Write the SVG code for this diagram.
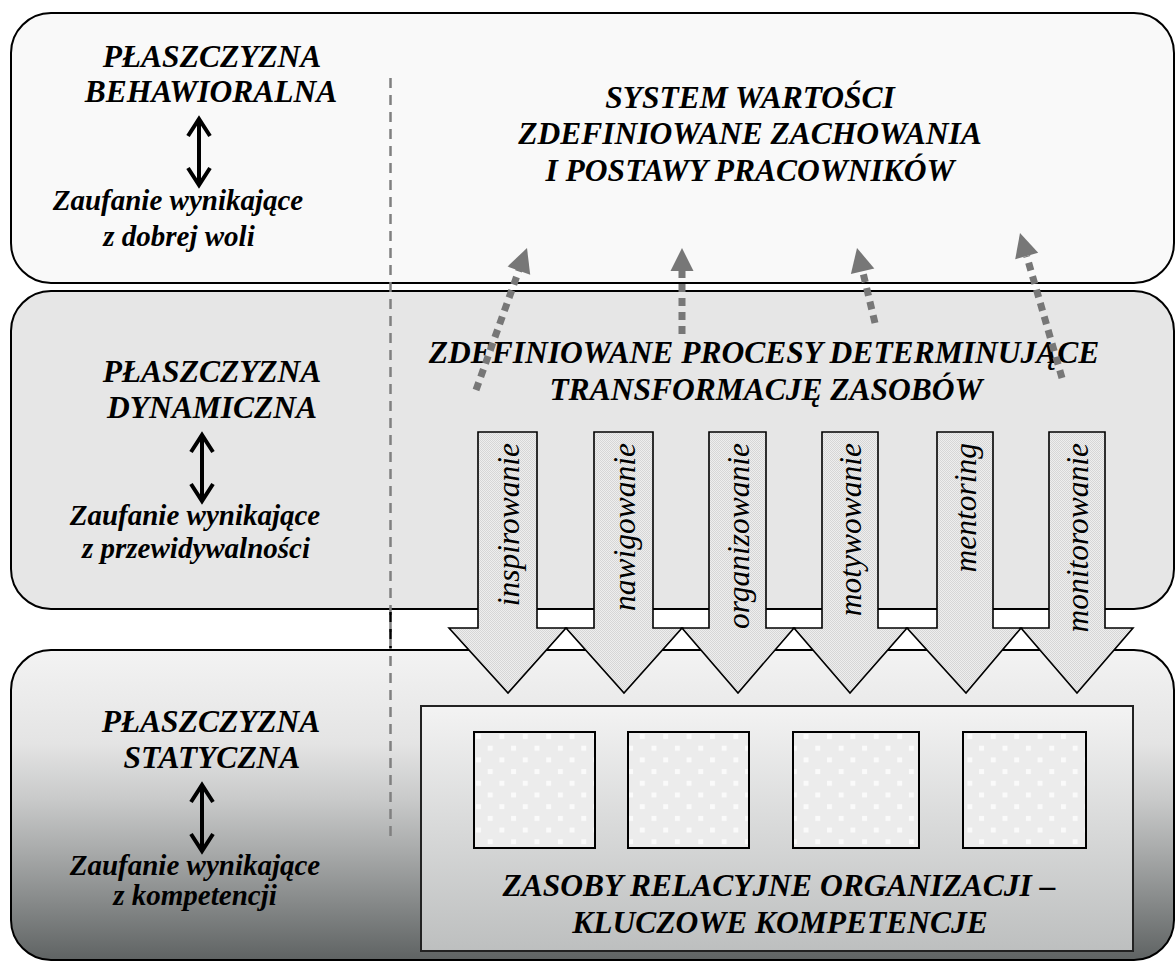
<svg xmlns="http://www.w3.org/2000/svg" width="1176" height="962" viewBox="0 0 1176 962">
<style>
.panel{stroke:#000;stroke-width:2}
.t{font-family:"Liberation Serif","Times New Roman",serif;font-weight:bold;font-style:italic;fill:#000;text-anchor:middle}
.big{font-size:31.5px}
.trust{font-size:29px}
.proc{font-family:"Liberation Serif","Times New Roman",serif;font-style:italic;font-size:31.5px;fill:#000;text-anchor:end}
.parr{fill:url(#chk);stroke:#000;stroke-width:1.6;stroke-linejoin:miter}
.dbl{stroke:#000;stroke-width:4;fill:none;stroke-linecap:butt}
.dot{stroke:#777;stroke-width:7;stroke-dasharray:8 6;fill:none}
.dhead{fill:#777}
.sq{fill:url(#dots);stroke:#000;stroke-width:2}
</style>
<defs>
<linearGradient id="g3" x1="0" y1="0" x2="0" y2="1">
<stop offset="0" stop-color="#f3f3f3"/>
<stop offset="0.3" stop-color="#e4e4e4"/>
<stop offset="0.48" stop-color="#c9caca"/>
<stop offset="0.65" stop-color="#a8aaaa"/>
<stop offset="0.81" stop-color="#878a8a"/>
<stop offset="1" stop-color="#5f6363"/>
</linearGradient>
<linearGradient id="gbox" x1="0" y1="0" x2="0" y2="1">
<stop offset="0" stop-color="#f3f3f3"/>
<stop offset="1" stop-color="#bdbfbf"/>
</linearGradient>
<pattern id="chk" width="2" height="2" patternUnits="userSpaceOnUse">
<rect width="2" height="2" fill="#eeeeee"/>
<rect width="1" height="1" fill="#d6d6d6"/>
<rect x="1" y="1" width="1" height="1" fill="#d6d6d6"/>
</pattern>
<pattern id="dots" width="23.4" height="23.4" patternUnits="userSpaceOnUse" x="476" y="734">
<rect width="23.4" height="23.4" fill="#ececec"/>
<rect x="0" y="0" width="5" height="5" fill="#fafafa"/>
<rect x="11.7" y="11.7" width="5" height="5" fill="#fafafa"/>
</pattern>
</defs>

<g id="panel-behavioral">
<rect class="panel" x="11" y="13" width="1163" height="270" rx="40" ry="40" fill="#f9f9f9"/>
<text class="t big" x="212" y="67">PŁASZCZYZNA</text>
<text class="t big" x="211" y="102">BEHAWIORALNA</text>
<g class="dbl"><line x1="199" y1="119" x2="199" y2="185"/><polyline points="188,136 199,119 210,136"/><polyline points="188,168 199,185 210,168"/></g>
<text class="t trust" x="178" y="210">Zaufanie wynikające</text>
<text class="t trust" x="179" y="246">z dobrej woli</text>
<text class="t big" x="750" y="108">SYSTEM WARTOŚCI</text>
<text class="t big" x="750" y="144">ZDEFINIOWANE ZACHOWANIA</text>
<text class="t big" x="750" y="181">I POSTAWY PRACOWNIKÓW</text>
</g>

<g id="panel-dynamic">
<rect class="panel" x="11" y="291" width="1163" height="318" rx="40" ry="40" fill="#e6e6e6"/>
<text class="t big" x="212" y="382">PŁASZCZYZNA</text>
<text class="t big" x="212" y="418">DYNAMICZNA</text>
<g class="dbl"><line x1="202" y1="435" x2="202" y2="501"/><polyline points="191,452 202,435 213,452"/><polyline points="191,484 202,501 213,484"/></g>
<text class="t trust" x="195" y="525">Zaufanie wynikające</text>
<text class="t trust" x="196" y="558">z przewidywalności</text>
<text class="t big" x="764" y="363">ZDEFINIOWANE PROCESY DETERMINUJĄCE</text>
<text class="t big" x="766" y="400">TRANSFORMACJĘ ZASOBÓW</text>
</g>

<g id="panel-static">
<rect class="panel" x="11" y="650" width="1163" height="310" rx="40" ry="40" fill="url(#g3)"/>
<text class="t big" x="211" y="732">PŁASZCZYZNA</text>
<text class="t big" x="212" y="768">STATYCZNA</text>
<g class="dbl"><line x1="202" y1="785" x2="202" y2="851"/><polyline points="191,802 202,785 213,802"/><polyline points="191,834 202,851 213,834"/></g>
<text class="t trust" x="195" y="875">Zaufanie wynikające</text>
<text class="t trust" x="195" y="905">z kompetencji</text>
</g>

<g id="resources">
<rect x="421" y="706" width="712" height="245" fill="url(#gbox)" stroke="#222" stroke-width="2"/>
<rect class="sq" x="474" y="732" width="121" height="116"/>
<rect class="sq" x="628" y="732" width="121" height="116"/>
<rect class="sq" x="793" y="732" width="126" height="116"/>
<rect class="sq" x="963" y="732" width="123" height="116"/>
<text class="t big" x="779" y="896">ZASOBY RELACYJNE ORGANIZACJI –</text>
<text class="t big" x="780" y="933">KLUCZOWE KOMPETENCJE</text>
</g>

<g id="divider">
<line x1="390.5" y1="78" x2="390.5" y2="838" stroke="#808080" stroke-width="2.5" stroke-dasharray="10 7"/>
<line x1="390.5" y1="612" x2="390.5" y2="648" stroke="#000" stroke-width="2.5" stroke-dasharray="10 7"/>
</g>

<g id="process-arrows">
<g id="p1"><path class="parr" d="M478,432 H537 V628 H566 L508,693 L449,628 H478 Z"/><text class="proc" transform="translate(519,443) rotate(-90)">inspirowanie</text></g>
<g id="p2"><path class="parr" d="M594,432 H653 V628 H682 L624,693 L566,628 H594 Z"/><text class="proc" transform="translate(635,443) rotate(-90)">nawigowanie</text></g>
<g id="p3"><path class="parr" d="M709,432 H766 V628 H794 L738,693 L682,628 H709 Z"/><text class="proc" transform="translate(749,443) rotate(-90)">organizowanie</text></g>
<g id="p4"><path class="parr" d="M822,432 H878 V628 H907 L850,693 L794,628 H822 Z"/><text class="proc" transform="translate(861,443) rotate(-90)">motywowanie</text></g>
<g id="p5"><path class="parr" d="M937,432 H993 V628 H1021 L966,693 L907,628 H937 Z"/><text class="proc" transform="translate(976,443) rotate(-90)">mentoring</text></g>
<g id="p6"><path class="parr" d="M1049,432 H1105 V628 H1133 L1077,693 L1021,628 H1049 Z"/><text class="proc" transform="translate(1088,443) rotate(-90)">monitorowanie</text></g>
</g>

<g id="connectors">
<line class="dot" x1="476" y1="390" x2="519" y2="270"/>
<polygon class="dhead" points="527,248 530.2,274.7 507.6,266.5"/>
<line class="dot" x1="682" y1="334" x2="682" y2="271"/>
<polygon class="dhead" points="682,248 693.5,271 670.5,271"/>
<line class="dot" x1="875" y1="323" x2="862.6" y2="271"/>
<polygon class="dhead" points="857,248 874.3,268.5 850.9,274.1"/>
<line class="dot" x1="1062" y1="378" x2="1026.7" y2="256"/>
<polygon class="dhead" points="1020,233 1038.2,252.7 1015.2,259.3"/>
</g>
</svg>
